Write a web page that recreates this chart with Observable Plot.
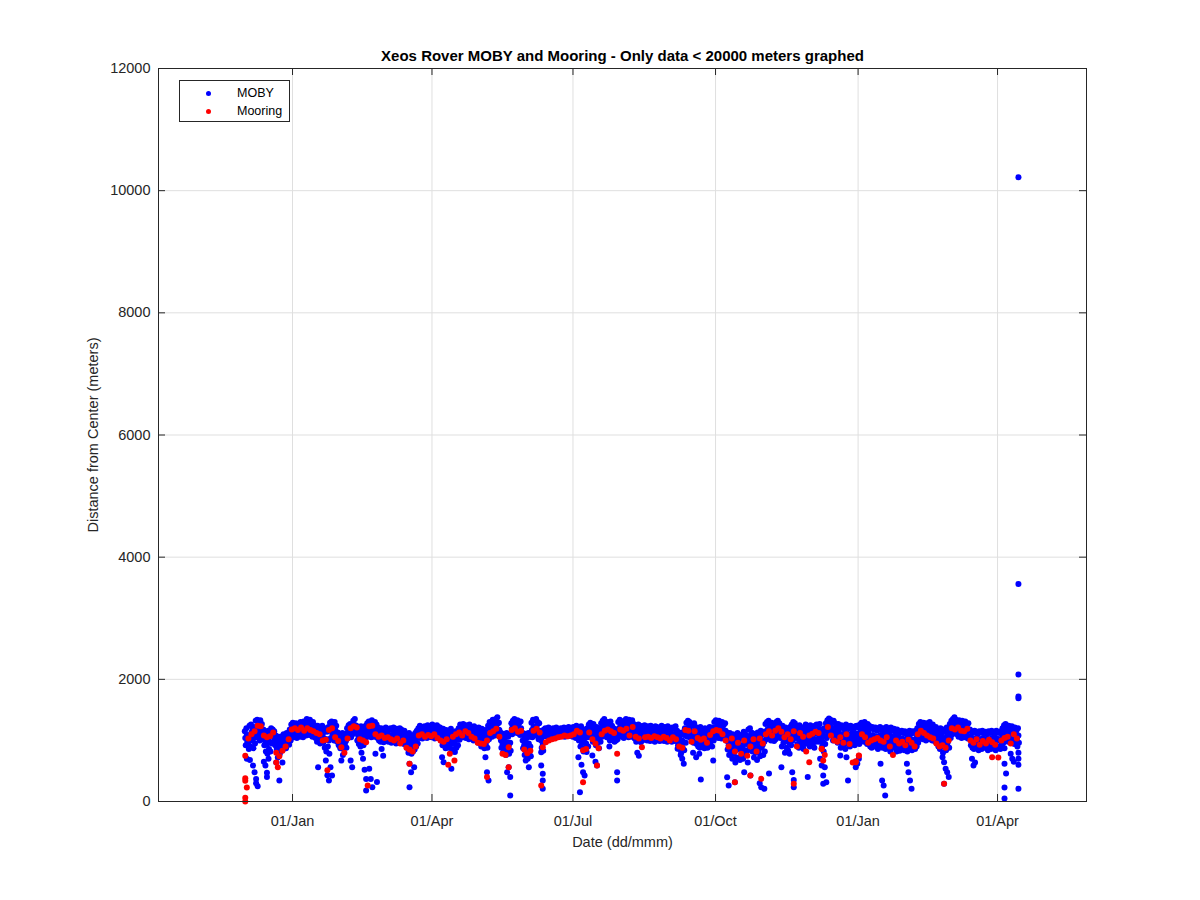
<!DOCTYPE html>
<html><head><meta charset="utf-8">
<script src="https://cdn.jsdelivr.net/npm/d3@7"></script>
<script src="https://cdn.jsdelivr.net/npm/@observablehq/plot@0.6"></script>
<style>
body{margin:0;background:#fff;}
#wrap{position:relative;width:1200px;height:900px;font-family:"Liberation Sans",Arial,Helvetica,sans-serif;}
#legend{position:absolute;left:179px;top:80px;width:111px;height:42px;border:1px solid #262626;background:#fff;font-size:12.5px;color:#000;box-sizing:border-box;}
.lrow{position:absolute;left:0;height:16px;line-height:16px;}
.ldot{position:absolute;left:26px;top:5.5px;width:5px;height:5px;border-radius:50%;}
.ltxt{position:absolute;left:57px;top:0;white-space:nowrap;}
</style></head><body><div id="wrap"></div>
<script>
// ---------------- data ----------------
const titleText = "Xeos Rover MOBY and Mooring - Only data < 20000 meters graphed";
const xLabel = "Date (dd/mmm)";
const yLabel = "Distance from Center (meters)";
const seriesNames = ["MOBY", "Mooring"];
const seriesColors = ["#0000ff", "#ff0000"];
const xTickDates = ["2018-01-01", "2018-04-01", "2018-07-01", "2018-10-01", "2019-01-01", "2019-04-01"];
const yTicks = [0, 2000, 4000, 6000, 8000, 10000, 12000];
const firstDay = "2017-12-01";
const xStart = "2017-10-06T12:00Z";
const xEnd = "2019-05-28T10:00Z";

// MOBY: three fixes per day, day 0 = firstDay (rows of 10 days)
const mobyFix1 = [
1150,1200,1080,1240,1260,1180,1220,1320,1340,1290,
1330,1270,1180,1140,1080,1160,1120,1200,1180,1150,
1080,1040,1060,1000,1070,1100,1060,1120,1090,1180,
1260,1290,1240,1280,1220,1270,1300,1260,1310,1280,
1350,1320,1340,1270,1300,1250,1200,1240,1180,1220,
1240,1180,1200,1140,1220,1290,1310,1260,1300,1240,
1130,1100,1080,1120,1060,1110,1200,1250,1270,1230,
1320,1350,1240,1200,1180,1230,1150,1210,1240,1280,
1310,1290,1330,1270,1300,1260,1210,1180,1200,1160,
1190,1210,1150,1180,1200,1170,1210,1160,1190,1140,
1200,1180,1150,1160,1100,1060,1120,1080,1030,1090,
1120,1160,1200,1240,1220,1180,1230,1200,1250,1210,
1230,1260,1240,1200,1250,1220,1210,1160,1190,1130,
1170,1100,1150,1190,1120,1080,1150,1100,1200,1260,
1240,1270,1230,1250,1210,1260,1220,1180,1230,1200,
1180,1210,1150,1190,1120,1170,1100,1240,1300,1280,
1340,1310,1350,1380,1290,1130,1080,1110,1050,1120,
1060,1100,1280,1320,1350,1300,1330,1280,1310,1130,
1080,1110,1040,1120,1060,1290,1340,1320,1350,1300,
1280,1120,1060,1180,1200,1170,1210,1190,1160,1200,
1180,1210,1190,1170,1200,1180,1210,1190,1200,1220,
1200,1190,1220,1180,1240,1200,1160,1230,1120,1180,
1100,1200,1260,1290,1240,1270,1180,1220,1150,1200,
1280,1320,1350,1290,1300,1260,1310,1240,1200,1160,
1180,1300,1340,1310,1280,1320,1350,1300,1340,1290,
1330,1270,1250,1220,1260,1240,1200,1230,1250,1210,
1230,1200,1240,1210,1190,1230,1220,1190,1210,1240,
1200,1220,1190,1230,1200,1180,1210,1190,1230,1160,
1120,1080,1130,1100,1200,1290,1320,1300,1270,1240,
1280,1220,1200,1160,1220,1180,1140,1200,1150,1190,
1220,1170,1210,1300,1330,1290,1320,1270,1300,1250,
1280,1130,1080,1120,1050,1100,1000,1060,1120,1030,
1090,1050,1140,1100,1020,1180,1200,1130,1070,1110,
1040,1130,1080,1160,1100,1140,1270,1300,1320,1260,
1290,1230,1250,1300,1320,1280,1200,1240,1160,1210,
1180,1140,1220,1260,1300,1280,1230,1180,1250,1200,
1140,1220,1260,1230,1190,1250,1200,1170,1240,1260,
1230,1270,1180,1120,1200,1280,1330,1360,1340,1300,
1320,1280,1240,1270,1200,1250,1220,1180,1260,1230,
1200,1240,1200,1180,1230,1240,1210,1260,1290,1250,
1300,1220,1270,1240,1190,1220,1180,1210,1160,1200,
1220,1170,1200,1150,1220,1180,1140,1210,1160,1190,
1130,1180,1100,1140,1160,1120,1150,1100,1130,1160,
1110,1150,1120,1160,1200,1270,1300,1260,1290,1240,
1280,1250,1300,1230,1260,1210,1220,1180,1150,1200,
1130,1180,1140,1210,1160,1270,1320,1350,1380,1340,
1300,1330,1290,1320,1280,1310,1250,1280,1180,1150,
1120,1160,1140,1100,1150,1130,1160,1120,1140,1100,
1150,1120,1160,1130,1100,1160,1140,1120,1150,1200,
1250,1270,1220,1240,1200,1230,1180,1210,1160,1200
];
const mobyFix2 = [
920,980,860,900,1000,870,950,1050,1120,1000,
1060,1020,920,820,780,860,820,950,980,920,
860,800,780,830,850,900,870,960,930,1000,
1080,1050,1120,1040,1090,1060,1100,1050,1120,1080,
1150,1090,1120,1060,1100,1040,980,1030,950,1000,
960,880,820,900,780,1040,1100,1000,1060,980,
920,870,900,860,940,880,1040,1080,1050,1100,
1120,1150,1000,940,900,1020,920,980,1050,1080,
1100,1050,1120,1060,1090,1040,1000,980,1020,970,
1000,1050,980,1010,960,980,1000,950,1020,960,
1000,970,940,960,880,800,860,780,820,850,
900,950,1040,1060,1030,1080,1050,1040,1100,1060,
1050,1080,1030,1060,1040,1080,1000,920,950,870,
900,880,940,860,820,810,880,920,1010,1080,
1050,1100,1040,1080,1020,1090,1030,1000,1060,1010,
960,1000,900,940,870,920,880,1020,1080,1060,
1120,1080,1150,1180,1060,880,800,850,760,820,
780,830,1100,1150,1180,1120,1140,1090,1100,870,
760,820,700,780,740,1050,1100,1080,1120,1020,
1040,880,830,1070,1080,1060,1100,1070,1060,1090,
1070,1090,1060,1080,1100,1070,1060,1090,1070,1100,
1080,1060,1090,1040,1060,1000,900,960,820,880,
810,900,1060,1100,980,1040,920,960,870,980,
1060,1100,1140,1050,1090,1000,1080,1020,980,1000,
1020,1080,1120,1060,1040,1100,1120,1050,1100,1060,
1080,1030,980,1000,1040,970,1000,1020,1040,1000,
1020,990,1040,1000,980,1010,1030,990,1000,1020,
990,1010,980,1020,1000,980,1000,990,1010,920,
860,800,880,840,960,1060,1100,1040,1000,960,
1020,940,900,880,960,900,870,940,880,920,
980,900,1000,1060,1100,1040,1080,1030,1060,1040,
1050,850,760,820,700,780,640,720,860,680,
760,700,840,780,640,900,960,820,720,800,
680,820,740,880,760,820,1020,1060,1080,1000,
1040,990,1020,1080,1100,1040,900,960,800,880,
840,780,920,1000,1060,1040,940,880,980,900,
860,940,1020,960,900,1000,920,880,980,1020,
980,1040,900,820,940,1040,1100,1140,1080,1000,
1080,1020,960,1000,880,960,920,860,980,940,
900,980,940,920,1000,980,940,1020,1060,980,
1060,940,1000,900,880,960,900,940,860,920,
960,880,940,860,960,900,820,940,880,920,
820,900,830,880,900,840,880,820,860,900,
840,880,860,900,960,1040,1080,1020,1060,1000,
1060,1020,1080,1000,1040,980,1000,900,860,940,
800,900,840,960,880,1040,1100,1120,1150,1100,
1060,1100,1040,1080,1050,1090,1030,1060,920,880,
860,900,880,840,900,860,920,880,900,840,
900,860,920,880,840,900,880,860,920,960,
1000,1040,980,1020,960,1000,940,980,900,960
];
const mobyFix3 = [
1040,1090,960,1080,1130,1020,1090,1190,1230,1150,
1200,1140,1050,980,930,1010,970,1080,1070,1040,
970,920,900,920,960,1000,960,1040,1010,1090,
1170,1160,1180,1150,1150,1170,1200,1150,1210,1180,
1250,1200,1230,1160,1200,1140,1090,1130,1060,1110,
1100,1030,1010,1020,1000,1160,1200,1130,1180,1110,
1020,980,990,990,1000,990,1120,1160,1160,1170,
1220,1250,1120,1070,1040,1120,1030,1090,1140,1180,
1200,1170,1220,1160,1190,1150,1100,1080,1110,1060,
1090,1130,1060,1090,1080,1070,1100,1050,1100,1050,
1100,1070,1040,1060,990,930,990,930,920,970,
1010,1050,1120,1150,1120,1130,1140,1120,1170,1130,
1140,1170,1130,1130,1140,1150,1100,1040,1070,1000,
1030,990,1040,1020,970,940,1010,1010,1100,1170,
1140,1180,1130,1160,1110,1170,1120,1090,1140,1100,
1070,1100,1020,1060,990,1040,990,1130,1190,1170,
1230,1190,1250,1280,1170,1000,940,980,900,970,
920,960,1190,1230,1260,1210,1230,1180,1200,1000,
920,960,870,950,900,1170,1220,1200,1230,1160,
1160,1000,940,1120,1140,1110,1150,1130,1110,1140,
1120,1150,1120,1120,1150,1120,1130,1140,1130,1160,
1140,1120,1150,1110,1150,1100,1030,1090,970,1030,
950,1050,1160,1190,1110,1150,1050,1090,1010,1090,
1170,1210,1240,1170,1190,1130,1190,1130,1090,1080,
1100,1190,1230,1180,1160,1210,1230,1170,1220,1170,
1200,1150,1110,1110,1150,1100,1100,1120,1140,1100,
1120,1090,1140,1100,1080,1120,1120,1090,1100,1130,
1090,1110,1080,1120,1100,1080,1100,1090,1120,1040,
990,940,1000,970,1080,1170,1210,1170,1130,1100,
1150,1080,1050,1020,1090,1040,1000,1070,1010,1050,
1100,1030,1100,1180,1210,1160,1200,1150,1180,1140,
1160,990,920,970,870,940,820,890,990,850,
920,870,990,940,830,1040,1080,970,890,950,
860,970,910,1020,930,980,1140,1180,1200,1130,
1160,1110,1130,1190,1210,1160,1050,1100,980,1040,
1010,960,1070,1130,1180,1160,1080,1030,1110,1050,
1000,1080,1140,1090,1040,1120,1060,1020,1110,1140,
1100,1150,1040,970,1070,1160,1210,1250,1210,1150,
1200,1150,1100,1130,1040,1100,1070,1020,1120,1080,
1050,1110,1070,1050,1110,1110,1070,1140,1170,1110,
1180,1080,1130,1070,1030,1090,1040,1070,1010,1060,
1090,1020,1070,1000,1090,1040,980,1070,1020,1050,
970,1040,960,1010,1030,980,1010,960,990,1030,
970,1010,990,1030,1080,1150,1190,1140,1170,1120,
1170,1130,1190,1110,1150,1090,1110,1040,1000,1070,
960,1040,990,1080,1020,1150,1210,1230,1260,1220,
1180,1210,1160,1200,1160,1200,1140,1170,1050,1010,
990,1030,1010,970,1020,990,1040,1000,1020,970,
1020,990,1040,1000,970,1030,1010,990,1030,1080,
1120,1150,1100,1130,1080,1110,1060,1090,1030,1080
];
// MOBY scattered low / high fixes: [day, meters]
const mobyExtra = [
[1,700],[3,680],[5,590],[6,480],[7,370],[7,300],[8,250],
[12,650],[13,590],[14,470],[14,400],[15,700],
[20,640],[21,720],[22,344],[24,640],
[47,560],[52,670],[53,430],[54,344],[55,560],[56,426],
[62,670],[63,760],[68,670],[69,560],
[75,800],[76,700],[77,520],[78,370],[78,180],
[80,535],[81,370],[82,235],[85,320],[84,780],[88,860],[89,750],
[106,616],[107,480],[106,235],[109,560],
[127,725],[128,644],[133,535],
[155,725],[156,480],[157,344],
[169,480],[170,560],[171,400],[171,98],
[181,670],[183,560],
[191,807],[191,589],[192,453],[192,344],[192,207],
[215,725],[216,153],[217,600],[218,480],[219,426],
[224,753],[226,650],[227,589],
[235,900],[240,480],[240,344],
[253,800],[254,750],
[279,862],[281,760],[282,700],[283,617],
[289,800],[291,725],[293,780],[294,360],[302,670],
[311,399],[312,262],[316,316],[322,480],[326,426],[332,300],[333,235],[335,207],[338,460],
[346,560],[353,480],[354,350],[354,235],[363,400],
[371,700],[372,589],[373,426],[373,290],[374,560],[375,316],
[384,753],[388,725],[389,344],[394,560],[395,620],[396,700],
[410,616],[411,344],[412,262],[413,98],
[427,616],[428,480],[429,344],[430,207],
[450,725],[451,644],[451,290],[452,535],[453,480],[454,400],
[469,698],[470,589],[471,640],
[490,870],[490,620],[491,460],[490,230],[490,50],
[494,780],[495,700],[496,650],
[499,10220],[499,3560],[499,2080],[499,1720],[499,1690],[499,800],[499,700],[499,600],[499,210]
];
// Mooring: one fix every 2 days from firstDay (rows of 20 days)
const mooringFix = [
750,1030,1100,1150,1240,1230,1080,1050,1070,1130,
800,740,830,900,1020,1180,1200,1170,1210,1160,
1200,1170,1150,1120,1100,1000,1010,1170,1200,1050,
990,890,800,1030,1200,1230,1210,1020,1000,970,
1230,1240,1100,1060,1080,1040,1050,1020,1000,1030,
950,1000,880,850,820,900,1080,1100,1060,1090,
1070,1100,1040,1000,980,1020,780,1060,1100,1130,
1080,1150,1120,1060,1030,960,950,940,1000,1120,
1150,1190,1060,780,760,890,1170,1200,1140,1160,
850,790,830,1160,1190,1130,890,970,1000,1020,
1030,1050,1060,1080,1070,1080,1100,1160,1130,840,
860,1130,1020,950,870,1100,1160,1180,1150,1120,
780,1180,1160,1190,1080,1220,1060,1030,890,1050,
1060,1040,1070,1050,1030,1060,1040,1000,1050,1020,
900,880,1170,1160,980,1150,1040,1010,1030,960,
1090,1150,1170,1160,1100,1000,900,1030,820,960,
780,1000,750,900,1020,820,1030,950,1100,1150,
1080,1160,1200,1140,1050,1100,1020,1150,900,1120,
1060,820,1080,1110,1140,1120,860,760,1220,1080,
1000,980,1050,960,1100,940,640,660,750,1100,
1050,960,1000,1020,1040,1000,980,1050,900,760,
1000,950,980,920,1010,960,900,1100,1160,1120,
1080,1050,1030,950,900,920,880,1000,1200,1180,
1210,1160,1150,1190,1000,960,1020,930,990,950,
1010,970,930,720,1000,1040,1060,950,1100,1030
];
const mooringExtra = [
[0,380],[0,340],[1,230],[0,60],[0,0],
[20,640],[21,560],[53,510],[79,262],[106,617],
[131,600],[135,670],[156,400],[170,560],[191,262],
[218,316],[227,589],[316,316],[326,426],[333,371],
[354,290],[364,644],[372,862],[373,670],[394,644],
[396,753],[451,290],[482,725]
];

// ---------------- build tables ----------------
const DAY = 864e5;
const t0 = new Date(firstDay + "T00:00Z").getTime();
const at = d => new Date(t0 + d * DAY);
const moby = [];
mobyFix1.forEach((v, i) => moby.push({t: at(i + 0.2), v}));
mobyFix3.forEach((v, i) => moby.push({t: at(i + 0.5), v}));
mobyFix2.forEach((v, i) => moby.push({t: at(i + 0.8), v}));
mobyExtra.forEach(([d, v]) => moby.push({t: at(d + 0.5), v}));
const mooring = [];
mooringFix.forEach((v, i) => mooring.push({t: at(2 * i + 0.5), v}));
mooringExtra.forEach(([d, v]) => mooring.push({t: at(d + 0.5), v}));
const xTicks = xTickDates.map(s => new Date(s + "T00:00Z"));

// ---------------- plot ----------------
const W = 1200, H = 900, ML = 158, MR = 114, MT = 68, MB = 99;
const frameW = W - ML - MR, frameH = H - MT - MB;
const font = '"Liberation Sans", Arial, Helvetica, sans-serif';
const axisColor = "#262626";
const gridColor = "#dfdfdf";

const chart = Plot.plot({
  width: W, height: H,
  marginLeft: ML, marginRight: MR, marginTop: MT, marginBottom: MB,
  style: {fontFamily: font, fontSize: "14.5px", color: axisColor, background: "#fff", overflow: "visible"},
  x: {type: "utc", domain: [new Date(xStart), new Date(xEnd)]},
  y: {type: "linear", domain: [0, 12000]},
  marks: [
    Plot.gridX(xTicks, {stroke: gridColor, strokeOpacity: 1}),
    Plot.gridY(yTicks, {stroke: gridColor, strokeOpacity: 1}),
    Plot.dot(moby, {x: "t", y: "v", r: 3, fill: seriesColors[0]}),
    Plot.dot(mooring, {x: "t", y: "v", r: 3, fill: seriesColors[1]}),
    Plot.tickY(yTicks, {y: d => d, insetRight: frameW - 7, stroke: axisColor}),
    Plot.tickY(yTicks, {y: d => d, insetLeft: frameW - 7, stroke: axisColor}),
    Plot.tickX(xTicks, {x: d => d, insetTop: frameH - 7, stroke: axisColor}),
    Plot.tickX(xTicks, {x: d => d, insetBottom: frameH - 7, stroke: axisColor}),
    Plot.axisX(xTicks, {tickSize: 0, tickPadding: 14, tickFormat: d3.utcFormat("%d/%b"), label: null, fill: axisColor, fontSize: 14.5}),
    Plot.axisY(yTicks, {tickSize: 0, tickPadding: 8, tickFormat: d => String(d), label: null, fill: axisColor, fontSize: 14.5}),
    Plot.frame({stroke: axisColor}),
    Plot.text([titleText], {text: d => d, frameAnchor: "top", lineAnchor: "middle", dy: -12, fontWeight: "bold", fontSize: 15, fill: "#000"}),
    Plot.text([xLabel], {text: d => d, frameAnchor: "bottom", lineAnchor: "middle", dy: 41, fontSize: 14.5, fill: axisColor}),
    Plot.text([yLabel], {text: d => d, frameAnchor: "left", textAnchor: "middle", lineAnchor: "middle", dx: -65, rotate: -90, fontSize: 14.5, fill: axisColor})
  ]
});
const wrap = document.getElementById("wrap");
wrap.appendChild(chart);

// legend
const legend = document.createElement("div");
legend.id = "legend";
seriesNames.forEach((name, i) => {
  const row = document.createElement("div");
  row.className = "lrow";
  row.style.top = (4 + i * 18) + "px";
  row.style.width = "100%";
  const dot = document.createElement("span");
  dot.className = "ldot";
  dot.style.background = seriesColors[i];
  const txt = document.createElement("span");
  txt.className = "ltxt";
  txt.textContent = name;
  row.appendChild(dot); row.appendChild(txt);
  legend.appendChild(row);
});
wrap.appendChild(legend);
</script>
</body></html>
